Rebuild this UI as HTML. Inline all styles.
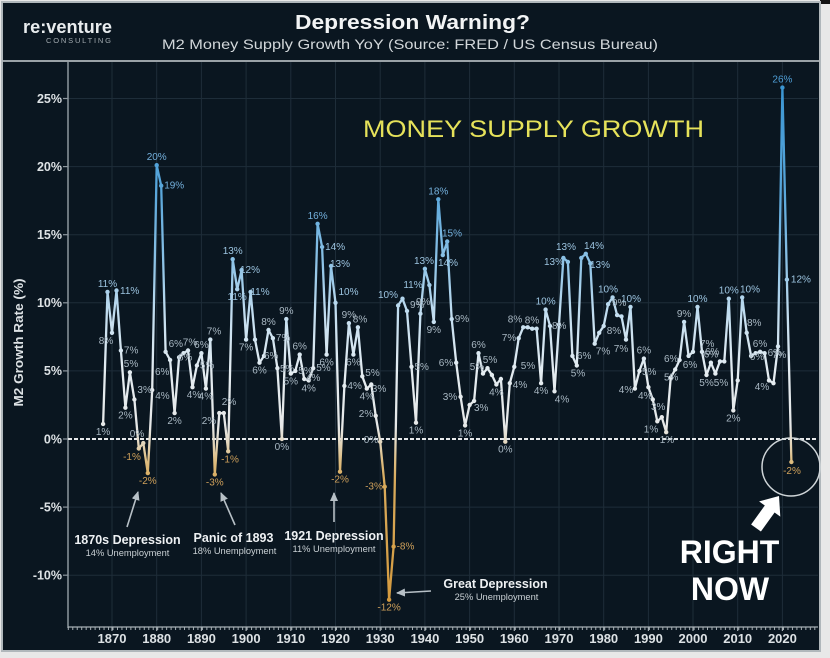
<!DOCTYPE html>
<html><head><meta charset="utf-8">
<style>
html,body{margin:0;padding:0;background:#e8e8e8;}
svg{display:block;}
text{font-family:"Liberation Sans",sans-serif;}
.lb text{font-size:10px;}
.w{fill:#a9b8c3;} .l{fill:#9cc4e0;} .b{fill:#74b0dc;} .bb{fill:#4e9ed6;} .t{fill:#cfa05a;}
.m text{text-anchor:middle;}
</style></head>
<body>
<svg width="830" height="658" viewBox="0 0 830 658" xmlns="http://www.w3.org/2000/svg">
<defs>
<linearGradient id="g" gradientUnits="userSpaceOnUse" x1="0" y1="84.9" x2="0" y2="602.4">
<stop offset="0" stop-color="#3a95d2"/>
<stop offset="0.21" stop-color="#5aa7db"/>
<stop offset="0.342" stop-color="#8cc2e6"/>
<stop offset="0.447" stop-color="#c4def0"/>
<stop offset="0.553" stop-color="#e4ecf1"/>
<stop offset="0.658" stop-color="#e6e8e8"/>
<stop offset="0.684" stop-color="#e4dccb"/>
<stop offset="0.724" stop-color="#dfbf84"/>
<stop offset="0.763" stop-color="#d9ab5c"/>
<stop offset="1" stop-color="#d49a3e"/>
</linearGradient>
<marker id="ah" markerUnits="userSpaceOnUse" markerWidth="9" markerHeight="8" refX="8" refY="4" orient="auto">
<path d="M0,0 L9,4 L0,8 z" fill="#b7c0c6"/>
</marker>
</defs>

<rect x="0" y="0" width="830" height="658" fill="#e8e8e8"/>
<rect x="820" y="0" width="10" height="4" fill="#111"/>
<rect x="2" y="2" width="818" height="649" fill="#0a1620" stroke="#b0b7bb" stroke-width="2"/>
<line x1="3" y1="61" x2="819" y2="61" stroke="#9aa2a7" stroke-width="2"/>

<!-- header -->
<text x="23" y="33" font-size="18" font-weight="bold" fill="#e8ecee" textLength="89" lengthAdjust="spacingAndGlyphs">re:venture</text>
<text x="46" y="43" font-size="7.5" fill="#a3abb0" textLength="65" lengthAdjust="spacing">CONSULTING</text>
<text x="295" y="29" font-size="20" font-weight="bold" fill="#f2f4f5" textLength="235" lengthAdjust="spacingAndGlyphs">Depression Warning?</text>
<text x="162" y="49" font-size="14" fill="#d2d7da" textLength="496" lengthAdjust="spacingAndGlyphs">M2 Money Supply Growth YoY  (Source: FRED / US Census Bureau)</text>

<!-- grid -->
<g stroke="#1e2d39" stroke-width="1">
<line x1="112" y1="62" x2="112" y2="627"/><line x1="156.7" y1="62" x2="156.7" y2="627"/>
<line x1="201.4" y1="62" x2="201.4" y2="627"/><line x1="246.1" y1="62" x2="246.1" y2="627"/>
<line x1="290.8" y1="62" x2="290.8" y2="627"/><line x1="335.5" y1="62" x2="335.5" y2="627"/>
<line x1="380.2" y1="62" x2="380.2" y2="627"/><line x1="424.9" y1="62" x2="424.9" y2="627"/>
<line x1="469.6" y1="62" x2="469.6" y2="627"/><line x1="514.3" y1="62" x2="514.3" y2="627"/>
<line x1="559" y1="62" x2="559" y2="627"/><line x1="603.7" y1="62" x2="603.7" y2="627"/>
<line x1="648.4" y1="62" x2="648.4" y2="627"/><line x1="693" y1="62" x2="693" y2="627"/>
<line x1="737.7" y1="62" x2="737.7" y2="627"/><line x1="782.4" y1="62" x2="782.4" y2="627"/>
<line x1="68" y1="98.5" x2="818" y2="98.5"/><line x1="68" y1="166.6" x2="818" y2="166.6"/>
<line x1="68" y1="234.7" x2="818" y2="234.7"/><line x1="68" y1="302.8" x2="818" y2="302.8"/>
<line x1="68" y1="370.9" x2="818" y2="370.9"/><line x1="68" y1="507.1" x2="818" y2="507.1"/>
<line x1="68" y1="575.2" x2="818" y2="575.2"/>
</g>

<!-- axes -->
<line x1="68" y1="62" x2="68" y2="628" stroke="#8d979e" stroke-width="1.5"/>
<g stroke="#8d979e" stroke-width="1.2">
<line x1="63" y1="98.5" x2="68" y2="98.5"/><line x1="63" y1="166.6" x2="68" y2="166.6"/>
<line x1="63" y1="234.7" x2="68" y2="234.7"/><line x1="63" y1="302.8" x2="68" y2="302.8"/>
<line x1="63" y1="370.9" x2="68" y2="370.9"/><line x1="63" y1="439" x2="68" y2="439"/>
<line x1="63" y1="507.1" x2="68" y2="507.1"/><line x1="63" y1="575.2" x2="68" y2="575.2"/>
</g>
<line x1="68" y1="627" x2="818" y2="627" stroke="#a7b0b5" stroke-width="1.3"/>
<line x1="67.8" y1="628.5" x2="818" y2="628.5" stroke="#a7b0b5" stroke-width="3" stroke-dasharray="1 3.47"/>
<g stroke="#a7b0b5" stroke-width="1.2">
<line x1="112" y1="627" x2="112" y2="631"/><line x1="156.7" y1="627" x2="156.7" y2="631"/>
<line x1="201.4" y1="627" x2="201.4" y2="631"/><line x1="246.1" y1="627" x2="246.1" y2="631"/>
<line x1="290.8" y1="627" x2="290.8" y2="631"/><line x1="335.5" y1="627" x2="335.5" y2="631"/>
<line x1="380.2" y1="627" x2="380.2" y2="631"/><line x1="424.9" y1="627" x2="424.9" y2="631"/>
<line x1="469.6" y1="627" x2="469.6" y2="631"/><line x1="514.3" y1="627" x2="514.3" y2="631"/>
<line x1="559" y1="627" x2="559" y2="631"/><line x1="603.7" y1="627" x2="603.7" y2="631"/>
<line x1="648.4" y1="627" x2="648.4" y2="631"/><line x1="693" y1="627" x2="693" y2="631"/>
<line x1="737.7" y1="627" x2="737.7" y2="631"/><line x1="782.4" y1="627" x2="782.4" y2="631"/>
</g>

<g font-size="12.5" font-weight="bold" fill="#dde2e5" text-anchor="end">
<text x="62" y="103">25%</text><text x="62" y="171">20%</text><text x="62" y="239">15%</text>
<text x="62" y="307">10%</text><text x="62" y="375">5%</text><text x="62" y="443.5">0%</text>
<text x="62" y="511.5">-5%</text><text x="62" y="579.5">-10%</text>
</g>
<g font-size="13" font-weight="bold" fill="#dde2e5" text-anchor="middle">
<text x="112" y="643">1870</text><text x="156.7" y="643">1880</text><text x="201.4" y="643">1890</text>
<text x="246.1" y="643">1900</text><text x="290.8" y="643">1910</text><text x="335.5" y="643">1920</text>
<text x="380.2" y="643">1930</text><text x="424.9" y="643">1940</text><text x="469.6" y="643">1950</text>
<text x="514.3" y="643">1960</text><text x="559" y="643">1970</text><text x="603.7" y="643">1980</text>
<text x="648.4" y="643">1990</text><text x="693" y="643">2000</text><text x="737.7" y="643">2010</text>
<text x="782.4" y="643">2020</text>
</g>
<text transform="translate(23,342.5) rotate(-90)" text-anchor="middle" font-size="13" font-weight="bold" fill="#dde2e5" textLength="128" lengthAdjust="spacingAndGlyphs">M2 Growth Rate (%)</text>

<!-- zero line -->
<line x1="68" y1="439" x2="818" y2="439" stroke="#e6e8ea" stroke-width="2" stroke-dasharray="4 2"/>

<!-- title in plot -->
<text x="363" y="137" font-size="24" fill="#e6e25a" textLength="341" lengthAdjust="spacingAndGlyphs">MONEY SUPPLY GROWTH</text>

<!-- annotation arrows -->
<g stroke="#b7c0c6" stroke-width="1.6" fill="none">
<line x1="127" y1="527" x2="138" y2="492" marker-end="url(#ah)"/>
<line x1="235" y1="525" x2="221" y2="493" marker-end="url(#ah)"/>
<line x1="334" y1="522" x2="334" y2="493" marker-end="url(#ah)"/>
<line x1="431" y1="591" x2="397" y2="593" marker-end="url(#ah)"/>
</g>
<circle cx="791" cy="467" r="29" fill="none" stroke="#cfd5d8" stroke-width="1.5"/>

<!-- series line -->
<polyline fill="none" stroke="url(#g)" stroke-width="2.3" stroke-linejoin="round" points="103.1,424 107.5,291.9 112,332.8 116.5,290.5 120.9,350.5 125.4,407.7 129.9,372.3 134.4,399.5 138.8,448.5 143.3,443.1 147.8,473.1 152.2,390 156.7,165.2 161.2,185.7 165.6,351.8 170.1,360 174.6,413.1 179.1,357.3 183.5,353.2 188,350.5 192.5,387.2 196.9,365.5 201.4,353.2 205.9,388.6 210.3,339.6 214.8,474.4 219.3,413.1 223.8,413.1 228.2,451.3 232.7,259.2 237.2,289.2 241.6,270.1 246.1,339.6 250.6,291.9 255,339.6 259.5,362.7 264,355.9 268.5,330 272.9,338.2 277.4,368.2 281.9,439 286.3,319.1 290.8,373.6 295.3,370.9 299.7,354.6 304.2,379 308.7,380.4 313.2,368.2 317.6,223.8 322.1,247 326.6,354.6 331,266 335.5,302.8 340,471.7 344.4,385.9 348.9,323.2 353.4,354.6 357.9,327.3 362.3,376.3 366.8,388.6 371.3,384.5 375.7,415.8 380.2,441.7 384.7,486.7 389.1,599.7 393.6,546.6 398.1,305.5 402.5,298.7 407,311 411.5,366.8 416,422.7 420.4,313.7 424.9,268.8 429.4,285.1 433.8,321.9 438.3,199.3 442.8,255.1 447.2,241.5 451.7,319.1 456.2,362.7 460.6,396.8 465.1,425.4 469.6,405 474.1,400.9 478.5,353.2 483,373.6 487.5,368.2 491.9,375 496.4,384.5 500.9,379 505.3,441.7 509.8,383.2 514.3,366.8 518.7,338.2 523.2,327.3 527.7,327.3 532.2,328.7 536.6,328.7 541.1,383.2 545.6,309.6 550,326 554.5,391.3 559,324.6 563.4,257.9 567.9,261.9 572.4,355.9 576.8,365.5 581.3,257.9 585.8,253.8 590.3,263.3 594.7,343.7 599.2,332.8 603.7,326 608.1,304.2 612.6,297.4 617.1,315.1 621.5,316.4 626,339.6 630.5,306.9 634.9,388.6 639.4,370.9 643.9,358.6 648.4,387.2 652.8,399.5 657.3,421.3 661.8,417.2 666.2,432.2 670.7,377.7 675.2,369.5 679.6,360 684.1,321.9 688.6,355.9 693,351.8 697.5,306.9 702,351.8 706.5,375 710.9,362.7 715.4,373.6 719.9,361.4 724.3,361.4 728.8,298.7 733.3,410.4 737.7,380.4 742.2,297.4 746.7,332.8 751.1,355.9 755.6,353.2 760.1,351.8 764.6,353.2 769,380.4 773.5,383.2 778,346.4 782.4,87.6 786.9,279.6 791.4,462"/>

<!-- dots -->
<path fill="none" stroke="url(#g)" stroke-width="4.4" stroke-linecap="round" d="M103.1 424h0M107.5 291.9h0M112 332.8h0M116.5 290.5h0M120.9 350.5h0M125.4 407.7h0M129.9 372.3h0M134.4 399.5h0M138.8 448.5h0M143.3 443.1h0M147.8 473.1h0M152.2 390h0M156.7 165.2h0M161.2 185.7h0M165.6 351.8h0M170.1 360h0M174.6 413.1h0M179.1 357.3h0M183.5 353.2h0M188 350.5h0M192.5 387.2h0M196.9 365.5h0M201.4 353.2h0M205.9 388.6h0M210.3 339.6h0M214.8 474.4h0M219.3 413.1h0M223.8 413.1h0M228.2 451.3h0M232.7 259.2h0M237.2 289.2h0M241.6 270.1h0M246.1 339.6h0M250.6 291.9h0M255 339.6h0M259.5 362.7h0M264 355.9h0M268.5 330h0M272.9 338.2h0M277.4 368.2h0M281.9 439h0M286.3 319.1h0M290.8 373.6h0M295.3 370.9h0M299.7 354.6h0M304.2 379h0M308.7 380.4h0M313.2 368.2h0M317.6 223.8h0M322.1 247h0M326.6 354.6h0M331 266h0M335.5 302.8h0M340 471.7h0M344.4 385.9h0M348.9 323.2h0M353.4 354.6h0M357.9 327.3h0M362.3 376.3h0M366.8 388.6h0M371.3 384.5h0M375.7 415.8h0M380.2 441.7h0M384.7 486.7h0M389.1 599.7h0M393.6 546.6h0M398.1 305.5h0M402.5 298.7h0M407 311h0M411.5 366.8h0M416 422.7h0M420.4 313.7h0M424.9 268.8h0M429.4 285.1h0M433.8 321.9h0M438.3 199.3h0M442.8 255.1h0M447.2 241.5h0M451.7 319.1h0M456.2 362.7h0M460.6 396.8h0M465.1 425.4h0M469.6 405h0M474.1 400.9h0M478.5 353.2h0M483 373.6h0M487.5 368.2h0M491.9 375h0M496.4 384.5h0M500.9 379h0M505.3 441.7h0M509.8 383.2h0M514.3 366.8h0M518.7 338.2h0M523.2 327.3h0M527.7 327.3h0M532.2 328.7h0M536.6 328.7h0M541.1 383.2h0M545.6 309.6h0M550 326h0M554.5 391.3h0M559 324.6h0M563.4 257.9h0M567.9 261.9h0M572.4 355.9h0M576.8 365.5h0M581.3 257.9h0M585.8 253.8h0M590.3 263.3h0M594.7 343.7h0M599.2 332.8h0M603.7 326h0M608.1 304.2h0M612.6 297.4h0M617.1 315.1h0M621.5 316.4h0M626 339.6h0M630.5 306.9h0M634.9 388.6h0M639.4 370.9h0M643.9 358.6h0M648.4 387.2h0M652.8 399.5h0M657.3 421.3h0M661.8 417.2h0M666.2 432.2h0M670.7 377.7h0M675.2 369.5h0M679.6 360h0M684.1 321.9h0M688.6 355.9h0M693 351.8h0M697.5 306.9h0M702 351.8h0M706.5 375h0M710.9 362.7h0M715.4 373.6h0M719.9 361.4h0M724.3 361.4h0M728.8 298.7h0M733.3 410.4h0M737.7 380.4h0M742.2 297.4h0M746.7 332.8h0M751.1 355.9h0M755.6 353.2h0M760.1 351.8h0M764.6 353.2h0M769 380.4h0M773.5 383.2h0M778 346.4h0M782.4 87.6h0M786.9 279.6h0M791.4 462h0"/>

<!-- data labels, centered -->
<g class="lb m">
<text class="w" x="103.1" y="435">1%</text>
<text class="l" x="107.5" y="287">11%</text>
<text class="w" x="106" y="344">8%</text>
<text class="w" x="125.4" y="418.7">2%</text>
<text class="w" x="131" y="367">5%</text>
<text class="t" x="132" y="460">-1%</text>
<text class="w" x="137" y="437">0%</text>
<text class="t" x="147.8" y="484">-2%</text>
<text class="b" x="156.7" y="160.2">20%</text>
<text class="w" x="174.6" y="424.1">2%</text>
<text class="w" x="190" y="345.5">7%</text>
<text class="w" x="194" y="398.2">4%</text>
<text class="w" x="201.4" y="348.2">6%</text>
<text class="w" x="205.9" y="399.6">4%</text>
<text class="w" x="214" y="334.6">7%</text>
<text class="w" x="209" y="424">2%</text>
<text class="w" x="229" y="405">2%</text>
<text class="t" x="214.8" y="485.4">-3%</text>
<text class="t" x="230" y="462.3">-1%</text>
<text class="l" x="232.7" y="254.2">13%</text>
<text class="l" x="237.2" y="300.2">11%</text>
<text class="l" x="250" y="273">12%</text>
<text class="w" x="246.1" y="350.6">7%</text>
<text class="l" x="260" y="295">11%</text>
<text class="w" x="259.5" y="373.7">6%</text>
<text class="w" x="268.5" y="325">8%</text>
<text class="w" x="281.9" y="450">0%</text>
<text class="w" x="286.3" y="314.1">9%</text>
<text class="w" x="290.8" y="384.6">5%</text>
<text class="w" x="299.7" y="349.6">6%</text>
<text class="w" x="308.7" y="391.4">4%</text>
<text class="b" x="317.6" y="218.8">16%</text>
<text class="w" x="326.6" y="365.6">6%</text>
<text class="l" x="340" y="267">13%</text>
<text class="t" x="340" y="482.7">-2%</text>
<text class="w" x="348.9" y="318.2">9%</text>
<text class="w" x="353.4" y="365.6">6%</text>
<text class="w" x="360" y="322.3">8%</text>
<text class="w" x="366.8" y="399.6">4%</text>
<text class="w" x="379" y="392">3%</text>
<text class="w" x="366" y="417">2%</text>
<text class="w" x="371" y="443">0%</text>
<text class="t" x="374" y="489.7">-3%</text>
<text class="t" x="389.1" y="610.7">-12%</text>
<text class="l" x="388" y="298">10%</text>
<text class="w" x="416" y="433.7">1%</text>
<text class="l" x="424" y="263.8">13%</text>
<text class="l" x="413" y="288">11%</text>
<text class="w" x="433.8" y="332.9">9%</text>
<text class="b" x="438.3" y="194.3">18%</text>
<text class="l" x="448" y="266.1">14%</text>
<text class="b" x="452" y="236.5">15%</text>
<text class="w" x="446" y="366">6%</text>
<text class="w" x="450" y="400">3%</text>
<text class="w" x="465.1" y="436.4">1%</text>
<text class="w" x="478.5" y="348.2">6%</text>
<text class="w" x="477" y="370">5%</text>
<text class="w" x="490" y="363.2">5%</text>
<text class="w" x="496.4" y="395.5">4%</text>
<text class="w" x="505.3" y="452.7">0%</text>
<text class="w" x="509" y="341">7%</text>
<text class="w" x="515" y="322.3">8%</text>
<text class="w" x="532" y="323.7">8%</text>
<text class="w" x="528" y="369">5%</text>
<text class="w" x="541.1" y="394.2">4%</text>
<text class="l" x="545.6" y="304.6">10%</text>
<text class="w" x="562" y="402.3">4%</text>
<text class="l" x="554" y="265">13%</text>
<text class="l" x="566" y="250">13%</text>
<text class="w" x="578" y="376.5">5%</text>
<text class="l" x="594" y="248.8">14%</text>
<text class="w" x="603" y="354.7">7%</text>
<text class="l" x="608" y="292.4">10%</text>
<text class="w" x="621" y="352">7%</text>
<text class="l" x="631" y="301.9">10%</text>
<text class="w" x="626" y="393">4%</text>
<text class="w" x="643.9" y="353.6">6%</text>
<text class="w" x="651" y="432.3">1%</text>
<text class="w" x="667" y="443.2">1%</text>
<text class="w" x="684.1" y="316.9">9%</text>
<text class="w" x="690" y="368">6%</text>
<text class="l" x="697.5" y="301.9">10%</text>
<text class="w" x="706.5" y="386">5%</text>
<text class="w" x="711" y="357.7">6%</text>
<text class="w" x="721" y="386">5%</text>
<text class="l" x="728.8" y="293.7">10%</text>
<text class="w" x="733.3" y="421.4">2%</text>
<text class="l" x="750" y="292.4">10%</text>
<text class="w" x="757" y="360">6%</text>
<text class="w" x="760" y="346.8">6%</text>
<text class="w" x="762" y="390">4%</text>
<text class="bb" x="782.4" y="82.6">26%</text>
<text class="t" x="792" y="474">-2%</text>
</g>
<!-- data labels, right side -->
<g class="lb">
<text class="l" x="120" y="294">11%</text>
<text class="w" x="123.9" y="353.5">7%</text>
<text class="w" x="137.4" y="393">3%</text>
<text class="w" x="155.2" y="399">4%</text>
<text class="b" x="164.2" y="188.7">19%</text>
<text class="w" x="168.6" y="347">6%</text>
<text class="w" x="155" y="375">6%</text>
<text class="w" x="178" y="360.3">6%</text>
<text class="w" x="199.9" y="368.5">5%</text>
<text class="w" x="264" y="358.9">6%</text>
<text class="w" x="275.9" y="341.2">7%</text>
<text class="w" x="280" y="372">5%</text>
<text class="w" x="298.3" y="373.9">5%</text>
<text class="w" x="306" y="381">4%</text>
<text class="w" x="316.2" y="371.2">5%</text>
<text class="l" x="325.1" y="250">14%</text>
<text class="l" x="338.5" y="295">10%</text>
<text class="w" x="347.4" y="388.9">4%</text>
<text class="w" x="365.3" y="376">5%</text>
<text class="t" x="396.6" y="549.6">-8%</text>
<text class="w" x="410" y="308">9%</text>
<text class="w" x="414.5" y="369.8">5%</text>
<text class="w" x="416" y="305">9%</text>
<text class="w" x="454.7" y="322.1">9%</text>
<text class="w" x="474" y="411">3%</text>
<text class="w" x="512.8" y="388">4%</text>
<text class="w" x="552" y="329">8%</text>
<text class="w" x="577" y="358.9">6%</text>
<text class="l" x="590" y="268">13%</text>
<text class="w" x="606.7" y="334">8%</text>
<text class="w" x="612" y="306">9%</text>
<text class="w" x="642" y="375">5%</text>
<text class="w" x="638" y="399">4%</text>
<text class="w" x="651" y="410">3%</text>
<text class="w" x="664" y="380.7">5%</text>
<text class="w" x="664" y="362">6%</text>
<text class="w" x="700" y="347">7%</text>
<text class="w" x="705" y="354.8">6%</text>
<text class="w" x="747" y="326">8%</text>
<text class="w" x="767.6" y="356.2">6%</text>
<text class="w" x="772" y="358">7%</text>
<text class="l" x="790.9" y="282.6">12%</text>
</g>

<!-- event annotations -->
<g fill="#eef1f3" text-anchor="middle">
<text x="127.5" y="544" font-size="12.5" font-weight="bold">1870s Depression</text>
<text x="127.5" y="556" font-size="9.3" fill="#c9d0d4">14% Unemployment</text>
<text x="233.5" y="542" font-size="12.5" font-weight="bold">Panic of 1893</text>
<text x="234.5" y="554" font-size="9.3" fill="#c9d0d4">18% Unemployment</text>
<text x="334" y="540" font-size="12.5" font-weight="bold">1921 Depression</text>
<text x="334" y="552" font-size="9.3" fill="#c9d0d4">11% Unemployment</text>
<text x="495.5" y="588" font-size="12.5" font-weight="bold">Great Depression</text>
<text x="496.5" y="600" font-size="9.3" fill="#c9d0d4">25% Unemployment</text>
</g>

<!-- right now -->
<polygon points="779,496 780.3,516.6 774.6,512.5 760.9,531.5 751.1,524.5 764.8,505.5 759.1,501.4" fill="#ffffff"/>
<g fill="#ffffff" font-weight="bold" text-anchor="middle" font-size="32">
<text x="729.5" y="563">RIGHT</text>
<text x="730" y="600">NOW</text>
</g>
</svg>
</body></html>
